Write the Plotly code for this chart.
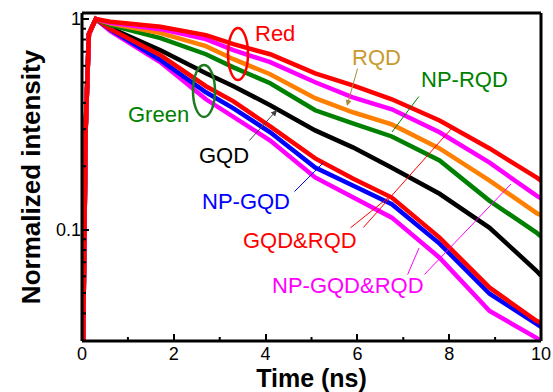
import math
import plotly.graph_objects as go

# ---- data ----
time_ns = [0.0, 0.08, 0.15, 0.3, 0.62, 1.71, 2.7, 3.3, 4.1, 5.08, 5.9, 6.75, 7.79, 8.88, 9.9, 10.0]

red_top   = [0.01, 0.3, 0.85, 1.0, 0.971, 0.919, 0.839, 0.760, 0.681, 0.553, 0.485, 0.416, 0.330, 0.243, 0.177, 0.171]
mag_top   = [0.01, 0.3, 0.85, 1.0, 0.960, 0.896, 0.803, 0.712, 0.624, 0.501, 0.425, 0.373, 0.290, 0.208, 0.145, 0.141]
orange_rq = [0.01, 0.3, 0.85, 1.0, 0.952, 0.858, 0.744, 0.645, 0.547, 0.421, 0.361, 0.316, 0.243, 0.171, 0.120, 0.117]
green_nrq = [0.01, 0.3, 0.85, 1.0, 0.936, 0.812, 0.681, 0.590, 0.496, 0.369, 0.320, 0.277, 0.213, 0.137, 0.0968, 0.0926]
black_gq  = [0.01, 0.3, 0.85, 1.0, 0.906, 0.712, 0.553, 0.480, 0.390, 0.296, 0.246, 0.197, 0.148, 0.102, 0.0638, 0.0604]
red_low   = [0.01, 0.3, 0.85, 1.0, 0.896, 0.674, 0.480, 0.407, 0.309, 0.218, 0.175, 0.142, 0.0916, 0.0530, 0.0369, 0.0361]
blue_ngq  = [0.01, 0.3, 0.85, 1.0, 0.891, 0.638, 0.449, 0.377, 0.290, 0.197, 0.162, 0.132, 0.0858, 0.0496, 0.0357, 0.0345]
mag_low   = [0.01, 0.3, 0.85, 1.0, 0.877, 0.624, 0.416, 0.345, 0.265, 0.177, 0.142, 0.114, 0.0736, 0.0411, 0.0306, 0.0296]

x_tick_vals = [0, 2, 4, 6, 8, 10]
x_minor_vals = [1, 3, 5, 7, 9]
y_tick_vals = [0.1, 1]
y_tick_text = ["0.1", "1"]
y_minor_vals = [0.04, 0.05, 0.06, 0.07, 0.08, 0.09, 0.2, 0.3, 0.4, 0.5, 0.6, 0.7, 0.8, 0.9]

series = [
    ("GQD", black_gq, "#000000"),
    ("NP-GQD&RQD (low)", mag_low, "#FF00FF"),
    ("NP-GQD", blue_ngq, "#0000FF"),
    ("GQD&RQD (low)", red_low, "#FF0000"),
    ("NP-RQD", green_nrq, "#008000"),
    ("RQD", orange_rq, "#FF8000"),
    ("NP-GQD&RQD (high)", mag_top, "#FF00FF"),
    ("GQD&RQD (high)", red_top, "#FF0000"),
]

FONT = "Liberation Sans, Arial, sans-serif"
YR = [-1.529, 0.029]
XR = [0, 10]

fig = go.Figure()
for name, vals, col in series:
    fig.add_trace(go.Scatter(x=time_ns, y=vals, mode="lines", name=name,
                             line=dict(color=col, width=4.5),
                             showlegend=False))

# plot area in pixels: x 82..541, y 13..341
L, R, T, B = 82, 541, 13, 341
W, H = R - L, B - T
def px(x):
    return (x - L) / W
def py(y):
    return (B - y) / H

annos = []
labels = [
    ("Red", 275, 33, "#FF0000"),
    ("Green", 158, 114, "#008000"),
    ("RQD", 376, 57, "#C99A2E"),
    ("NP-RQD", 464, 80, "#008000"),
    ("GQD", 224, 155, "#000000"),
    ("NP-GQD", 246, 201, "#0000FF"),
    ("GQD&RQD", 300, 240, "#FF0000"),
    ("NP-GQD&RQD", 348, 285, "#FF00FF"),
]
for txt, x, y, col in labels:
    annos.append(dict(text=txt, x=px(x), y=py(y), xref="paper", yref="paper",
                      showarrow=False, xanchor="center", yanchor="middle",
                      font=dict(family=FONT, size=22, color=col)))

pointers = [  # tail(x,y) -> head(x,y), colour, head style
    (358, 67, 347, 106, "#A88A3A", 2),
    (420, 95, 392, 132, "#008000", 0),
    (248, 142, 277, 110, "#404040", 2),
    (293, 193, 323, 163, "#0000FF", 0),
    (349, 229, 389, 197, "#FF0000", 0),
    (362, 229, 452, 128, "#FF0000", 0),
    (407, 276, 419, 248, "#FF00FF", 0),
    (423, 276, 511, 184, "#FF00FF", 0),
]
for tx, ty, hx, hy, col, head in pointers:
    annos.append(dict(text="", x=px(hx), y=py(hy), xref="paper", yref="paper",
                      showarrow=True, ax=tx - hx, ay=ty - hy, arrowcolor=col,
                      arrowwidth=1, arrowhead=head, arrowsize=1.2, standoff=0))

shapes = [
    dict(type="circle", xref="paper", yref="paper", x0=px(228), x1=px(248),
         y0=py(80), y1=py(28), line=dict(color="#FF0000", width=2.5)),
    dict(type="circle", xref="paper", yref="paper", x0=px(193), x1=px(215),
         y0=py(117), y1=py(65), line=dict(color="#1E7A1E", width=2.5)),
]
# frame
for (x0, y0, x1, y1) in [(0, 0, 1, 0), (0, 1, 1, 1), (0, 0, 0, 1), (1, 0, 1, 1)]:
    shapes.append(dict(type="line", xref="paper", yref="paper", x0=x0, y0=y0, x1=x1, y1=y1,
                       line=dict(color="black", width=3)))
# minor ticks (inside)
for v in x_minor_vals:
    fx = (v - XR[0]) / (XR[1] - XR[0])
    shapes.append(dict(type="line", xref="paper", yref="paper", x0=fx, x1=fx,
                       y0=0, y1=4 / H, line=dict(color="black", width=2)))
for v in y_minor_vals:
    fy = (math.log10(v) - YR[0]) / (YR[1] - YR[0])
    shapes.append(dict(type="line", xref="paper", yref="paper", x0=0, x1=4 / W,
                       y0=fy, y1=fy, line=dict(color="black", width=2)))

fig.update_layout(
    template="none",
    width=553, height=392,
    margin=dict(l=L, r=553 - R, t=T, b=392 - B, autoexpand=False),
    paper_bgcolor="white", plot_bgcolor="white",
    font=dict(family=FONT, color="black"),
    annotations=annos, shapes=shapes,
    xaxis=dict(range=XR, tickvals=x_tick_vals, showgrid=False, zeroline=False,
               automargin=False, showline=False,
               ticks="inside", ticklen=7, tickwidth=2, tickcolor="black",
               tickfont=dict(size=18, family=FONT),
               title=dict(text="<b>Time (ns)</b>", font=dict(size=25, family=FONT), standoff=5)),
    yaxis=dict(type="log", range=YR, tickvals=y_tick_vals, ticktext=y_tick_text,
               showgrid=False, zeroline=False, automargin=False, showline=False,
               ticks="inside", ticklen=7, tickwidth=2, tickcolor="black",
               tickfont=dict(size=18, family=FONT),
               title=dict(text="<b>Normalized intensity</b>", font=dict(size=26, family=FONT), standoff=7)),
)

fig.write_html("out.html")
